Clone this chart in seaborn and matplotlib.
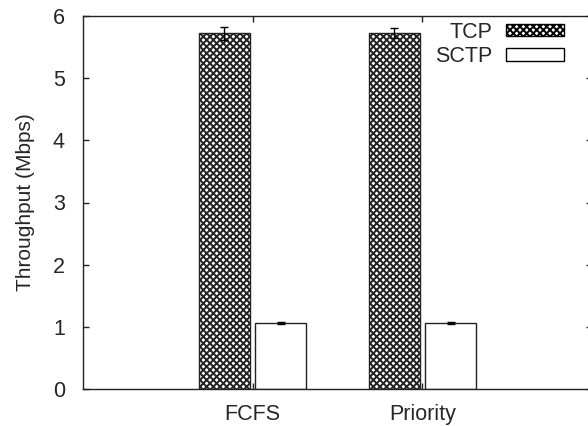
import pandas as pd
import matplotlib
matplotlib.use('Agg')
import matplotlib.pyplot as plt
from matplotlib.patches import Patch
import seaborn as sns

#  Data
policies = ['FCFS', 'Priority']
protocols = ['TCP', 'SCTP']
tcp_mbps = [5.72, 5.73]
sctp_mbps = [1.065, 1.058]
tcp_err = [0.10, 0.08]
sctp_err = [0.015, 0.015]

df = pd.DataFrame({
    'policy': policies * 2,
    'protocol': ['TCP'] * 2 + ['SCTP'] * 2,
    'throughput': tcp_mbps + sctp_mbps,
    'err': tcp_err + sctp_err,
})

sns.set_style('ticks')
plt.rcParams['font.family'] = ['Liberation Sans', 'DejaVu Sans']
plt.rcParams['hatch.linewidth'] = 1.4

fig = plt.figure(figsize=(5.88, 4.26), dpi=100)
ax = fig.add_axes([83 / 588, 37 / 426, 509 / 588, 373 / 426])

sns.barplot(data=df, x='policy', y='throughput', hue='protocol',
            hue_order=protocols, palette={'TCP': 'white', 'SCTP': 'white'},
            width=0.667, gap=0.1, errorbar=None, edgecolor='#222222',
            linewidth=1.0, legend=False, ax=ax)

hatches = {'TCP': 'xxxxx', 'SCTP': ''}
for cont, proto in zip(ax.containers, protocols):
    sub = df[df['protocol'] == proto]
    xs = [p.get_x() + p.get_width() / 2 for p in cont.patches]
    for p in cont.patches:
        p.set_hatch(hatches[proto])
    ax.errorbar(xs, sub['throughput'], yerr=sub['err'], fmt='none',
                ecolor='black', elinewidth=1.0, capsize=3, capthick=1.0,
                zorder=5)

ax.set_xlim(-1, 2)
ax.set_ylim(0, 6)
ax.set_yticks(range(0, 7))
ax.set_xlabel('')
ax.set_ylabel('Throughput (Mbps)', fontsize=15, labelpad=13)
ax.tick_params(axis='both', direction='in', length=4, width=1.0,
               labelsize=15.5, top=True, right=True, color='#222222')
ax.tick_params(axis='y', pad=13)
ax.tick_params(axis='x', pad=11)
for s in ax.spines.values():
    s.set_linewidth(1.0)
    s.set_color('#222222')

handles = [Patch(facecolor='white', edgecolor='black', hatch=hatches[p], label=p)
           for p in protocols]
ax.legend(handles=handles, loc='upper right', bbox_to_anchor=(564 / 588, 1 - 22 / 426),
          bbox_transform=fig.transFigure, frameon=False, markerfirst=False,
          fontsize=15.5, handlelength=2.7, handleheight=0.5, handletextpad=0.65,
          labelspacing=0.15, borderpad=0, borderaxespad=0)

fig.savefig('out.png', dpi=100)
